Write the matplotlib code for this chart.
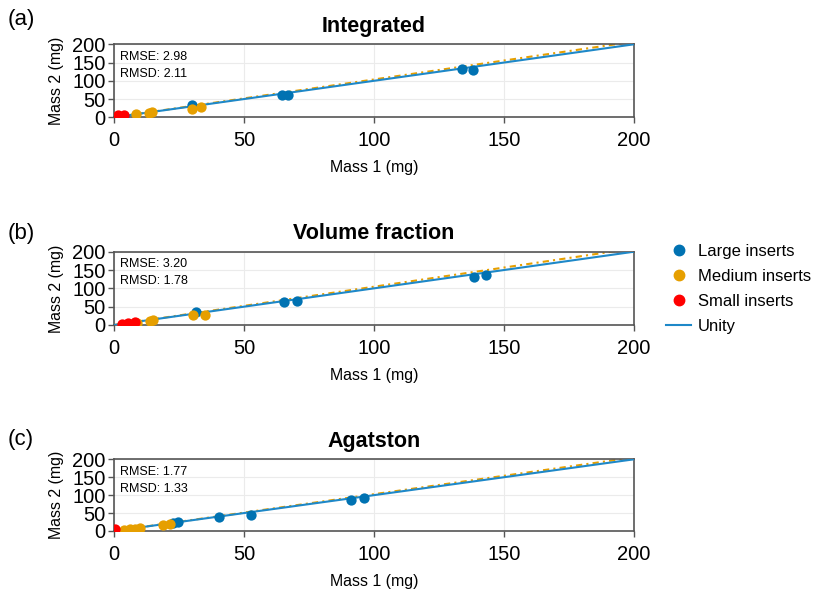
import matplotlib
matplotlib.use("Agg")
import matplotlib.pyplot as plt
import numpy as np
from matplotlib.lines import Line2D

plt.rcParams['font.family'] = ['Liberation Sans', 'DejaVu Sans']

titles = ["Integrated", "Volume fraction", "Agatston"]
panel_labels = ["(a)", "(b)", "(c)"]
rmse = ["2.98", "3.20", "1.77"]
rmsd = ["2.11", "1.78", "1.33"]

# Panel (a)
large_x_a = [4, 30, 64.5, 67, 134, 138]
large_y_a = [3.5, 33, 61, 61, 132, 129]
medium_x_a = [8.5, 13.5, 14.5, 30, 33.5]
medium_y_a = [8, 13, 15, 24, 27]
small_x_a = [1.5, 4]
small_y_a = [5.5, 6.5]

# Panel (b)
large_x_b = [31.5, 65.5, 70.5, 138.5, 143]
large_y_b = [36, 61.5, 65, 131, 137.5]
medium_x_b = [9, 14, 15, 30.5, 35]
medium_y_b = [6, 12, 14, 27, 28.5]
small_x_b = [3, 5.5, 8]
small_y_b = [4, 5.5, 7]

# Panel (c)
large_x_c = [22.5, 24.5, 40.5, 52.5, 91, 96]
large_y_c = [21, 24, 38, 45.5, 85.5, 93]
medium_x_c = [4, 6, 8, 10, 19, 21.5]
medium_y_c = [3.5, 5, 6.5, 8.5, 16, 19.5]
small_x_c = [0.5]
small_y_c = [4.5]

# Fitted line (slope, intercept) per panel
fit_slope = [1.037, 1.045, 1.027]
fit_intercept = [0.0, 0.0, 0.0]

ticks = [0, 50, 100, 150, 200]

panels = [
    (large_x_a, large_y_a, medium_x_a, medium_y_a, small_x_a, small_y_a),
    (large_x_b, large_y_b, medium_x_b, medium_y_b, small_x_b, small_y_b),
    (large_x_c, large_y_c, medium_x_c, medium_y_c, small_x_c, small_y_c),
]

C_LARGE = "#0072B2"
C_MED = "#E69F00"
C_SMALL = "#FF0000"
C_UNITY = "#1E88C8"

fig = plt.figure(figsize=(8.17, 5.91), dpi=100)

W, H = 817, 591
boxes = [(117.3, 73), (325, 73.3), (531, 71.7)]  # bottom px, height px
left_px, width_px = 114, 520

for i, (lx, ly, mx, my, sx, sy) in enumerate(panels):
    bpx, hpx = boxes[i]
    ax = fig.add_axes([left_px / W, 1 - bpx / H, width_px / W, hpx / H])
    ax.set_xlim(0, 200)
    ax.set_ylim(0, 200)
    ax.set_xticks(ticks)
    ax.set_yticks(ticks)
    ax.grid(True, color="#ebebeb", linewidth=0.8)
    ax.set_axisbelow(True)
    for s in ax.spines.values():
        s.set_color("#555555")
        s.set_linewidth(1.2)
    ax.tick_params(axis="both", direction="out", length=4, width=1,
                   color="#555555", labelsize=14.5, pad=2)
    ax.tick_params(axis="x", pad=6)

    xs = np.array([0, 200])
    ax.plot(xs, xs, color=C_UNITY, linewidth=1.5, zorder=3)
    ax.plot(xs, fit_slope[i] * xs + fit_intercept[i], color=C_MED,
            linestyle=(0, (3, 2, 1, 2)), linewidth=1.5, zorder=2)

    ax.scatter(lx, ly, s=55, color=C_LARGE, zorder=4, linewidths=0)
    ax.scatter(mx, my, s=55, color=C_MED, zorder=4, linewidths=0)
    ax.scatter(sx, sy, s=55, color=C_SMALL, zorder=4, linewidths=0)

    ax.set_xlabel("Mass 1 (mg)", fontsize=11.4, labelpad=7)
    ax.set_ylabel("Mass 2 (mg)", fontsize=11.4, labelpad=6)
    ax.set_title(titles[i], fontsize=15.5, fontweight="bold", pad=9)
    ax.text(0.012, 0.91, f"RMSE: {rmse[i]}\nRMSD: {rmsd[i]}",
            transform=ax.transAxes, fontsize=9, va="top", ha="left",
            linespacing=1.55)
    fig.text(8 / W, 1 - (20 + [0, 213, 420][i]) / H, panel_labels[i],
             fontsize=16, va="center", ha="left")

handles = [
    Line2D([], [], marker="o", linestyle="none", color=C_LARGE, markersize=7.5),
    Line2D([], [], marker="o", linestyle="none", color=C_MED, markersize=7.5),
    Line2D([], [], marker="o", linestyle="none", color=C_SMALL, markersize=7.5),
    Line2D([], [], color=C_UNITY, linewidth=1.5),
]
fig.legend(handles, ["Large inserts", "Medium inserts", "Small inserts", "Unity"],
           loc="center left", bbox_to_anchor=(661 / W, 1 - 289 / H),
           frameon=False, fontsize=12, handlelength=1.5, handletextpad=0.4,
           labelspacing=0.6, borderaxespad=0, borderpad=0.3)

fig.savefig("out.png", dpi=100)
